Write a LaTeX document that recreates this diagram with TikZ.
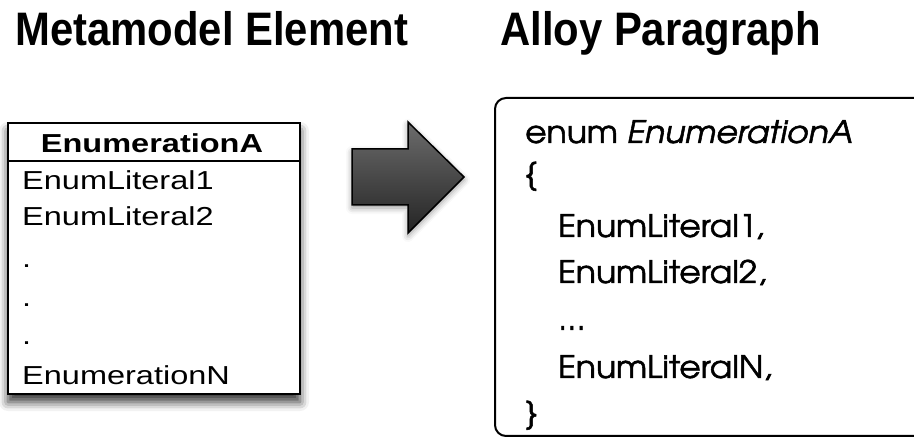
\documentclass[tikz,border=0pt]{standalone}
\usepackage{fontspec}
\usepackage{graphicx}
\setmainfont{Liberation Sans}
\newfontfamily\geofont{texgyreadventor}[Extension=.otf, UprightFont=*-regular, ItalicFont=*-italic,
  UprightFeatures={FakeBold=1.6}, ItalicFeatures={FakeBold=1.6}]
\usetikzlibrary{positioning, shadows.blur, calc}
\definecolor{arrowtop}{HTML}{6C6C6C}
\definecolor{arrowmid}{HTML}{878787}
\definecolor{arrowbot}{HTML}{242424}

\newcommand{\widen}[1]{\scalebox{1.25}[1]{#1}}
\newcommand{\narrowed}[1]{\scalebox{0.89}[1]{#1}}
\newcommand{\codewide}[1]{\scalebox{1.065}[1]{#1}}

\tikzset{
  heading/.style={anchor=base west, inner sep=0pt, font=\fontsize{47}{50}\selectfont\bfseries},
  classbox/.style={draw, line width=2pt, fill=white, anchor=north west,
    blur shadow={shadow xshift=0pt, shadow yshift=-8pt, shadow blur radius=9pt, shadow opacity=80}},
  literal/.style={anchor=base west, inner sep=0pt, font=\fontsize{26}{28}\selectfont},
  codebox/.style={draw, line width=2pt, rounded corners=11pt},
  codeline/.style={anchor=base west, inner sep=0pt, font=\geofont\fontsize{31}{36}\selectfont},
  bigarrow/.style={draw, line width=1.5pt, line join=miter, top color=arrowtop, middle color=arrowmid, bottom color=arrowbot,
    blur shadow={shadow xshift=0pt, shadow yshift=-3pt, shadow blur radius=6pt, shadow opacity=40}}
}

\begin{document}
\begin{tikzpicture}[x=1pt, y=-1pt]
  \useasboundingbox (0,0) rectangle (914,438);

  % headings
  \node[heading] (metaTitle) at (15,46) {\narrowed{Metamodel Element}};
  \node[heading] (alloyTitle) at (500,46) {\narrowed{Alloy Paragraph}};

  % metamodel enumeration
  \node[classbox, minimum width=292pt, minimum height=271pt] (enumBox) at (7,122) {};
  \draw[line width=2pt] (enumBox.west |- 0,161) -- (enumBox.east |- 0,161);
  \node[anchor=base, inner sep=0pt, font=\fontsize{26}{28}\selectfont\bfseries] (enumName) at (152,153) {\widen{EnumerationA}};
  \foreach \txt/\y [count=\i] in {EnumLiteral1/190, EnumLiteral2/226, ./268, ./307, ./345, EnumerationN/385}
    \node[literal] (lit\i) at (22,\y) {\widen{\txt}};

  % transformation arrow
  \path[bigarrow] (352,149) -- (408,149) -- (408,122) -- (464,177) -- (408,233) -- (408,205) -- (352,205) -- cycle;

  % alloy paragraph
  \draw[codebox] (495,98) rectangle (960,436);
  \node[codeline] (code1) at (525,143) {\codewide{enum \textit{EnumerationA}}};
  \node[codeline] (code2) at (525,184) {\codewide{\{}};
  \node[codeline] (code3) at (558,237) {\codewide{EnumLiteral1,}};
  \node[codeline] (code4) at (558,283) {\codewide{EnumLiteral2,}};
  \node[codeline] (code5) at (558,330) {\codewide{...}};
  \node[codeline] (code6) at (558,378) {\codewide{EnumLiteralN,}};
  \node[codeline] (code7) at (525,423) {\codewide{\}}};
\end{tikzpicture}
\end{document}
